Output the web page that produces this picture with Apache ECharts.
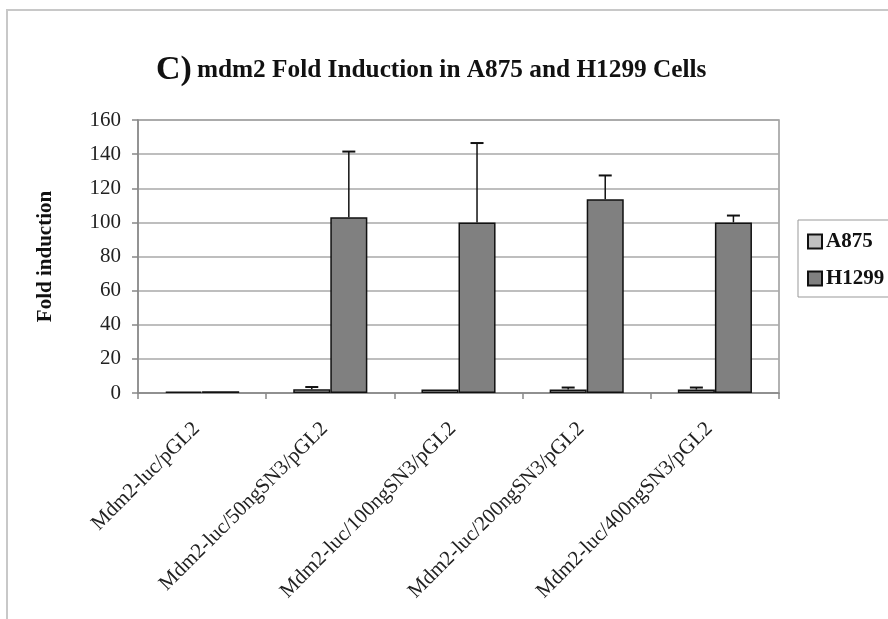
<!DOCTYPE html>
<html>
<head>
<meta charset="utf-8">
<script src="https://cdn.jsdelivr.net/npm/echarts@6/dist/echarts.min.js"></script>
<style>
html,body{margin:0;padding:0;background:#fff;}
#chart{width:888px;height:619px;}
</style>
</head>
<body>
<div id="chart"></div>
<script>
var categories = ['Mdm2-luc/pGL2', 'Mdm2-luc/50ngSN3/pGL2', 'Mdm2-luc/100ngSN3/pGL2', 'Mdm2-luc/200ngSN3/pGL2', 'Mdm2-luc/400ngSN3/pGL2'];
var seriesNames = ['A875', 'H1299'];
var a875Values = [0.8, 2.2, 2, 2, 2];
var a875Errors = [0, 1.3, 0, 1.2, 1.2];
var h1299Values = [1, 103, 100, 113.5, 100];
var h1299Errors = [0, 38.5, 46.5, 14, 4];
var yTicks = [0, 20, 40, 60, 80, 100, 120, 140, 160];

var FONT = '"Liberation Serif", "Times New Roman", serif';
var BAR_FRAC = 0.289;

function errSeries(values, errors, sideSign) {
  var data = values.map(function (v, i) { return [i, v, v + errors[i]]; });
  return {
    type: 'custom',
    silent: true,
    z: 5,
    data: data,
    renderItem: function (params, api) {
      var i = api.value(0);
      var lo = api.coord([i, api.value(1)]);
      var hi = api.coord([i, api.value(2)]);
      var bw = api.size([1, 0])[0] * BAR_FRAC;
      var x = lo[0] + sideSign * bw / 2;
      if (api.value(2) - api.value(1) <= 0) return null;
      var cap = 6.5;
      return {
        type: 'group',
        children: [
          { type: 'line', shape: { x1: x, y1: lo[1], x2: x, y2: hi[1] }, style: { stroke: '#111', lineWidth: 1.5 } },
          { type: 'line', shape: { x1: x - cap, y1: hi[1], x2: x + cap, y2: hi[1] }, style: { stroke: '#111', lineWidth: 2 } }
        ]
      };
    }
  };
}

var chart = echarts.init(document.getElementById('chart'), null, { renderer: 'canvas' });
chart.setOption({
  backgroundColor: '#fff',
  animation: false,
  title: {
    text: '{c|C)} {t|mdm2 Fold Induction in A875 and H1299 Cells}',
    left: 151,
    top: 48,
    textStyle: {
      rich: {
        c: { fontFamily: FONT, fontWeight: 'bold', fontSize: 34, color: '#111' },
        t: { fontFamily: FONT, fontWeight: 'bold', fontSize: 25.3, color: '#111' }
      }
    }
  },
  graphic: [{
    type: 'rect',
    shape: { x: 7, y: 10, width: 1000, height: 1000 },
    style: { fill: 'none', stroke: '#c8c8c8', lineWidth: 2 },
    silent: true
  }],
  legend: {
    data: seriesNames,
    orient: 'vertical',
    left: 798,
    top: 220,
    padding: [11, 40, 8, 9],
    itemGap: 16,
    itemWidth: 14,
    itemHeight: 14,
    icon: 'rect',
    borderColor: '#999',
    borderWidth: 1,
    textStyle: { fontFamily: FONT, fontWeight: 'bold', fontSize: 21, color: '#111', padding: [0, 0, 0, -1] }
  },
  grid: {
    left: 138, right: 109, top: 120, bottom: 226,
    show: true, borderColor: '#999', borderWidth: 1.5
  },
  xAxis: {
    type: 'category',
    data: categories,
    axisLine: { show: true, lineStyle: { color: '#888', width: 1.5 } },
    axisTick: { show: true, length: 6, lineStyle: { color: '#888', width: 1.5 } },
    axisLabel: { rotate: 45, margin: 27, padding: [0, 8, 0, 0], fontFamily: FONT, fontSize: 21, color: '#222', interval: 0 }
  },
  yAxis: {
    type: 'value',
    min: 0, max: 160, interval: 20,
    name: 'Fold induction',
    nameLocation: 'middle',
    nameGap: 82,
    nameTextStyle: { fontFamily: FONT, fontWeight: 'bold', fontSize: 21, color: '#111' },
    axisLine: { show: true, lineStyle: { color: '#888', width: 1.5 } },
    axisTick: { show: true, length: 6, lineStyle: { color: '#888', width: 1.5 } },
    axisLabel: {
      fontFamily: FONT, fontSize: 21, color: '#222', margin: 17,
      formatter: function (v) { return yTicks.indexOf(v) >= 0 ? String(v) : ''; }
    },
    splitLine: { show: true, lineStyle: { color: '#a8a8a8', width: 1.5 } }
  },
  series: [
    {
      name: 'A875', type: 'bar', data: a875Values,
      barWidth: (BAR_FRAC * 100) + '%', barGap: '0%',
      itemStyle: { color: '#c0c0c0', borderColor: '#111', borderWidth: 1.5 }
    },
    {
      name: 'H1299', type: 'bar', data: h1299Values,
      barWidth: (BAR_FRAC * 100) + '%', barGap: '0%',
      itemStyle: { color: '#808080', borderColor: '#111', borderWidth: 1.5 }
    },
    errSeries(a875Values, a875Errors, -1),
    errSeries(h1299Values, h1299Errors, 1)
  ]
});
</script>
</body>
</html>
